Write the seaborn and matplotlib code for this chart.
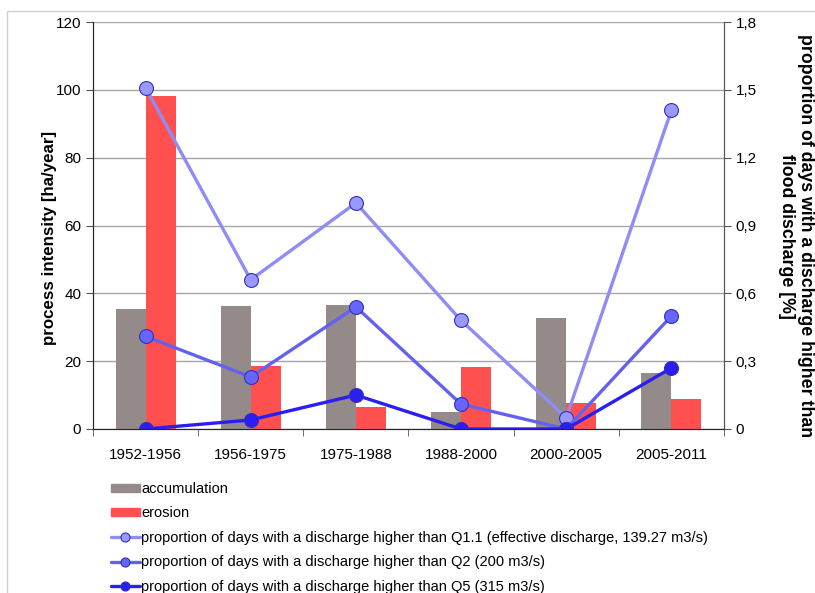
import numpy as np
import pandas as pd
import seaborn as sns
import matplotlib.pyplot as plt
from matplotlib.patches import Rectangle

periods = ['1952-1956', '1956-1975', '1975-1988', '1988-2000', '2000-2005', '2005-2011']
accumulation = [35.4, 36.3, 36.6, 5.0, 32.7, 16.5]
erosion = [98.2, 18.6, 6.5, 18.3, 7.7, 8.8]
q11 = [1.51, 0.66, 1.00, 0.48, 0.05, 1.41]
q2 = [0.41, 0.23, 0.54, 0.11, 0.0, 0.50]
q5 = [0.0, 0.04, 0.15, 0.0, 0.0, 0.27]

bar_labels = ['accumulation', 'erosion']
line_labels = ['proportion of days with a discharge higher than Q1.1 (effective discharge, 139.27 m3/s)',
               'proportion of days with a discharge higher than Q2 (200 m3/s)',
               'proportion of days with a discharge higher than Q5 (315 m3/s)']

sns.set_style('white')
plt.rcParams['font.family'] = ['Liberation Sans', 'DejaVu Sans']
plt.rcParams['text.color'] = 'black'
plt.rcParams['axes.labelcolor'] = 'black'
plt.rcParams['xtick.color'] = 'black'
plt.rcParams['ytick.color'] = 'black'

bars = pd.DataFrame({'period': periods * 2,
                     'value': accumulation + erosion,
                     'kind': [bar_labels[0]] * 6 + [bar_labels[1]] * 6})

fig = plt.figure(figsize=(8.15, 5.93), dpi=100)
fig.patches.append(Rectangle((7 / 815, -0.1), 1.0, 1 - 11 / 593 + 0.1, transform=fig.transFigure,
                             fill=False, edgecolor='#d0d0d0', lw=1))
ax = fig.add_axes([93 / 815, 1 - 429 / 593, 631 / 815, 407 / 593])

sns.barplot(data=bars, x='period', y='value', hue='kind', ax=ax, width=0.57, gap=0,
            palette=['#948a8a', '#ff5050'], saturation=1, edgecolor='none', legend=False)
ax.set_ylim(0, 120)
ax.set_xlim(-0.5, 5.5)
ax.set_yticks(np.arange(0, 121, 20))
ax.yaxis.grid(True, color='#a6a6a6', lw=1)
ax.set_axisbelow(True)
ax.set_xlabel('')
ax.set_ylabel('process intensity [ha/year]', fontsize=12.2, fontweight='bold')
ax.yaxis.label.set_va('center')
ax.yaxis.set_label_coords((50 - 93) / 631, (429 - 238) / 407)
ax.tick_params(axis='y', labelsize=11, direction='out', length=5, color='#555555', left=True)
ax.tick_params(axis='x', which='major', labelsize=11, length=0, pad=14)
ax.set_xticks(np.arange(-0.5, 6, 1), minor=True)
ax.tick_params(axis='x', which='minor', direction='out', length=5, color='#555555', bottom=True)
for s in ['left', 'bottom', 'right']:
    ax.spines[s].set_color('#555555')
ax.spines['top'].set_visible(False)

ax2 = ax.twinx()
pos = np.arange(len(periods))
line_styles = [('#8f8cf5', '#9999ff'), ('#6461f0', '#6666ff'), ('#2a1ef0', '#2a1ef0')]
for vals, lab, (lc, fc) in zip([q11, q2, q5], line_labels, line_styles):
    sns.lineplot(x=pos, y=vals, ax=ax2, color=lc, lw=2.4, marker='o', markersize=10,
                 markerfacecolor=fc, markeredgecolor='#3030c0', markeredgewidth=0.8, label=lab)
ax2.set_ylim(0, 1.8)
ax2.set_xlim(-0.5, 5.5)
ax2.set_yticks(np.arange(0, 1.81, 0.3))
ax2.set_yticklabels(['0'] + [f'{v:.1f}'.replace('.', ',') for v in np.arange(0.3, 1.81, 0.3)])
ax2.tick_params(axis='y', labelsize=11, direction='out', length=5, color='#555555', right=True)
ax2.set_ylabel('proportion of days with a discharge higher than\nflood discharge [%]',
               fontsize=12.8, fontweight='bold', rotation=-90, linespacing=1.1)
ax2.yaxis.label.set_va('center')
ax2.yaxis.set_label_coords((796 - 93) / 631, (429 - 236) / 407)
ax2.spines['top'].set_visible(False)
ax2.spines['right'].set_color('#555555')
ax2.get_legend().remove()

handles = [Rectangle((0, 0), 1, 1, color='#948a8a'), Rectangle((0, 0), 1, 1, color='#ff5050')]
h2, l2 = ax2.get_legend_handles_labels()
leg = fig.legend(handles + h2, bar_labels + l2, loc='upper left',
                 bbox_to_anchor=(105 / 815, 1 - 476 / 593), frameon=False, fontsize=10.5,
                 labelspacing=0.72, handlelength=2.0, handleheight=0.45, handletextpad=0.1,
                 borderaxespad=0, markerscale=0.65)

fig.savefig('out.png', dpi=100)
